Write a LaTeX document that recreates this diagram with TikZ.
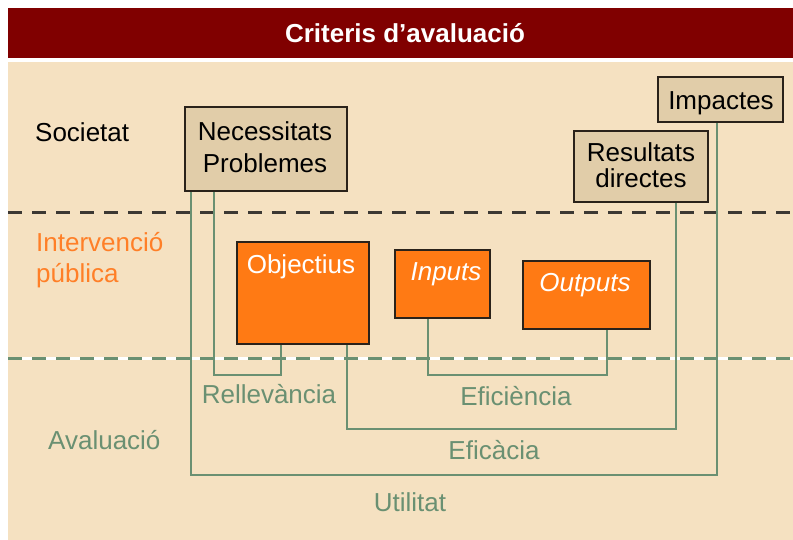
\documentclass[tikz,border=0pt]{standalone}
\usepackage{fontspec}
\setmainfont{Liberation Sans}
\definecolor{titlered}{HTML}{800000}
\definecolor{beige}{HTML}{F5E1C1}
\definecolor{tanfill}{HTML}{E1CDA9}
\definecolor{orng}{HTML}{FF7A14}
\definecolor{orngtxt}{HTML}{FF7F27}
\definecolor{grn}{HTML}{6A9072}
\definecolor{boxline}{HTML}{2A221A}
\definecolor{dashdark}{HTML}{3C3833}
\begin{document}
\begin{tikzpicture}[x=1pt,y=-1pt,
  txt/.style={font=\fontsize{26}{30}\selectfont, inner sep=0pt, anchor=base},
  soc/.style={draw=boxline, line width=2pt, fill=tanfill, inner sep=0pt, minimum width=#1},
  pub/.style={draw=boxline, line width=2pt, fill=orng, inner sep=0pt, minimum width=#1},
  conn/.style={draw=grn, line width=1.5pt},
  lbl/.style={txt, text=grn},
  wtxt/.style={txt, text=white}]
\useasboundingbox (0,0) rectangle (793,540);
\fill[beige] (8,62) rectangle (793,540);
\fill[titlered] (8,8) rectangle (793,58);
\node[txt, font=\bfseries\fontsize{26}{30}\selectfont, text=white] (title) at (405,43) {Criteris d’avaluació};
% layer separators
\draw[dashdark, line width=3pt, dash pattern=on 14pt off 10pt] (8,213) -- (793,213);
\draw[white, line width=3pt] (8,358) -- (793,358);
\draw[grn, line width=3pt, dash pattern=on 14pt off 10pt] (8,358) -- (793,358);
% row labels
\node[txt, anchor=base west] (soc) at (35,142) {Societat};
\node[txt, anchor=base west, text=orngtxt] (int1) at (36,252) {Intervenció};
\node[txt, anchor=base west, text=orngtxt] (int2) at (36,283) {pública};
\node[txt, anchor=base west, text=grn] (aval) at (48,449) {Avaluació};
% boxes
\node[soc=162pt, minimum height=84pt] (nec) at (266,149) {};
\node[soc=125pt, minimum height=45pt] (imp) at (720.5,99.5) {};
\node[soc=134pt, minimum height=71pt] (res) at (641,166.5) {};
\node[pub=132pt, minimum height=102pt] (obj) at (303,293) {};
\node[pub=95pt, minimum height=68pt] (inp) at (442.5,284) {};
\node[pub=127pt, minimum height=68pt] (out) at (586.5,295) {};
% box texts
\node[txt] (nect1) at (265,141) {Necessitats};
\node[txt] (nect2) at (265,173) {Problemes};
\node[txt] (rest1) at (641,162) {Resultats};
\node[txt] (rest2) at (641,188) {directes};
\node[txt] (impt) at (721,110) {Impactes};
\node[wtxt] (objt) at (301,274) {Objectius};
\node[wtxt, font=\itshape\fontsize{26}{30}\selectfont] (inpt) at (446,280) {Inputs};
\node[wtxt, font=\itshape\fontsize{26}{30}\selectfont] (outt) at (585,291) {Outputs};
% connector attachment points
\coordinate (ya) at (0,375);
\coordinate (yb) at (0,429);
\coordinate (yc) at (0,475);
\coordinate (n1) at ([xshift=7pt]nec.south west);
\coordinate (n2) at ([xshift=30pt]nec.south west);
\coordinate (o1) at ([xshift=45pt]obj.south west);
\coordinate (o2) at ([xshift=111pt]obj.south west);
\coordinate (p1) at ([xshift=34pt]inp.south west);
\coordinate (q1) at ([xshift=85pt]out.south west);
\coordinate (r1) at ([xshift=103pt]res.south west);
\coordinate (i1) at ([xshift=60pt]imp.south west);
% connectors
\draw[conn] (n1) -- (n1 |- yc) -- (i1 |- yc) -- (i1);
\draw[conn] (n2) -- (n2 |- ya) -- (o1 |- ya) -- (o1);
\draw[conn] (o2) -- (o2 |- yb) -- (r1 |- yb) -- (r1);
\draw[conn] (p1) -- (p1 |- ya) -- (q1 |- ya) -- (q1);
% criteria labels
\node[lbl] (rell) at (269,403) {Rellevància};
\node[lbl] (efci) at (516,405) {Eficiència};
\node[lbl] (efca) at (494,459) {Eficàcia};
\node[lbl] (util) at (410,511) {Utilitat};
\end{tikzpicture}
\end{document}
